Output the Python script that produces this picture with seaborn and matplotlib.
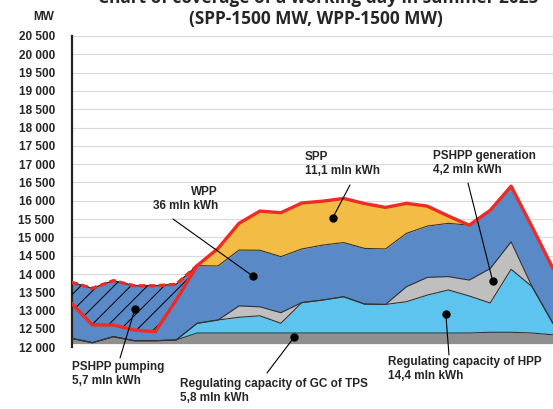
import numpy as np
import pandas as pd
import seaborn as sns
import matplotlib.pyplot as plt

# hourly values, MW
hours = list(range(24))
base_mw = 12100
tps_gc = [145, 25, 190, 80, 80, 100, 290, 290, 290, 290, 290, 290,
          290, 290, 290, 290, 290, 290, 290, 290, 310, 310, 290, 240]
hpp = [0, 0, 0, 0, 0, 0, 265, 355, 430, 470, 265, 830,
       900, 990, 790, 780, 855, 1035, 1175, 1010, 800, 1720, 1265, 310]
pshpp_gen = [0, 0, 0, 0, 0, 0, 0, 0, 310, 245, 290, 0,
             0, 0, 0, 0, 410, 485, 365, 435, 940, 750, 0, 0]
wpp = [1530, 1485, 1530, 1500, 1500, 1520, 1575, 1475, 1525, 1545, 1530, 1465,
       1500, 1480, 1520, 1515, 1455, 1400, 1455, 1500, 1590, 1520, 1635, 1500]
spp = [0, 0, 0, 0, 0, 0, 0, 480, 730, 1070, 1200, 1255,
       1200, 1205, 1225, 1135, 820, 545, 200, 0, 0, 0, 0, 0]
pshpp_pump = [575, 1000, 1210, 1210, 1255, 430, 0, 0, 0, 0, 0, 0,
              0, 0, 0, 0, 0, 0, 0, 0, 0, 0, 0, 0]

yticks = list(range(12000, 20501, 500))
ytick_labels = [f"{v // 1000} {v % 1000:03d}" for v in yticks]

layer_names = ["TPS", "HPP", "PSHPP gen", "WPP", "SPP"]
layer_colors = ["#8f8f8f", "#5cc4ef", "#bfbfbf", "#5a89c8", "#f3bc44"]

# label text, dot (hour, MW), line end (figure pixels), text top (figure pixels), align
labels = [
    ("PSHPP pumping\n5,7 mln kWh", (3.03, 13045), (120, 51), (72, 48), "left"),
    ("WPP\n36 mln kWh", (8.66, 13945), (173, 190), (218, 223), "right"),
    ("SPP\n11,1 mln kWh", (12.48, 15535), (350, 224), (305, 258), "left"),
    ("PSHPP generation\n4,2 mln kWh", (20.12, 13809), (468, 226), (433, 259), "left"),
    ("Regulating capacity of HPP\n14,4 mln kWh", (17.88, 12900), (449, 54), (388, 53), "left"),
    ("Regulating capacity of GC of TPS\n5,8 mln kWh", (10.63, 12273), (267, 36), (180, 31), "left"),
]

df = pd.DataFrame({"hour": hours, "TPS": tps_gc, "HPP": hpp, "PSHPP gen": pshpp_gen,
                   "WPP": wpp, "SPP": spp, "pump": pshpp_pump})
cum = df[layer_names].cumsum(axis=1) + base_mw
df["total"] = cum["SPP"]
df["demand"] = df["total"] - df["pump"]

sns.set_style("white")
plt.rcParams["font.family"] = ["Liberation Sans", "DejaVu Sans"]
plt.rcParams["hatch.linewidth"] = 0.7

fig = plt.figure(figsize=(5.53, 4.09), dpi=100)
ax = fig.add_axes([71.5 / 553, 61.7 / 409, 481.5 / 553, 311.3 / 409])

ax.set_axisbelow(True)
ax.grid(axis="y", color="#d9d9d9", lw=0.8)

lower = np.full(24, base_mw, dtype=float)
for name, col in zip(layer_names, layer_colors):
    upper = cum[name].to_numpy()
    ax.fill_between(df["hour"], lower, upper, color=col, lw=0, zorder=2)
    sns.lineplot(x=df["hour"], y=upper, color="#333333", lw=0.8, ax=ax, zorder=3)
    lower = upper

# pumping: hatched area between demand and stack top
night = df[df["hour"] <= 6]
ax.fill_between(night["hour"], night["demand"], night["total"], facecolor="none",
                edgecolor="black", hatch="//", lw=0, zorder=4)
sns.lineplot(data=night, x="hour", y="total", color="#ee2b24", lw=2.4,
             ax=ax, zorder=5).lines[-1].set_dashes([2, 1])
sns.lineplot(data=df, x="hour", y="demand", color="#ee2b24", lw=2.4, ax=ax, zorder=5)

for text, dot, line_end, text_pos, ha in labels:
    ax.plot(*dot, "o", color="black", ms=5, zorder=6)
    ax.annotate("", xy=dot, xytext=line_end, textcoords="figure pixels",
                arrowprops=dict(arrowstyle="-", lw=0.8, color="black",
                                shrinkA=0, shrinkB=0), zorder=6, annotation_clip=False)
    fig.text(text_pos[0] / 553, text_pos[1] / 409, text, ha=ha, va="top",
             fontsize=8.5, fontweight="bold", linespacing=1.25)

ax.set_xlim(0, 23)
ax.set_ylim(12000, 20500)
ax.set_xticks([])
ax.set_yticks(yticks)
ax.set_yticklabels(ytick_labels, fontsize=8.5, fontweight="bold")
ax.tick_params(axis="y", length=9, color="#d9d9d9", pad=3)
ax.set_xlabel("")
ax.set_ylabel("")
for side in ["top", "right", "bottom"]:
    ax.spines[side].set_visible(False)
ax.spines["left"].set_color("#222222")
ax.spines["left"].set_linewidth(1.6)

fig.text(44 / 553, 1 - 17 / 409, "MW", ha="center", va="center",
         fontsize=8.5, fontweight="bold")
fig.text(318 / 553, 1 - 3 / 409, "Chart of coverage of a working day in summer 2025",
         ha="center", va="baseline", fontsize=12.4, fontweight="bold", family="Open Sans")
fig.text(316 / 553, 1 - 19 / 409, "(SPP-1500 MW, WPP-1500 MW)", ha="center",
         va="center", fontsize=12.4, fontweight="bold", family="Open Sans")

fig.savefig("out.png", dpi=100)
